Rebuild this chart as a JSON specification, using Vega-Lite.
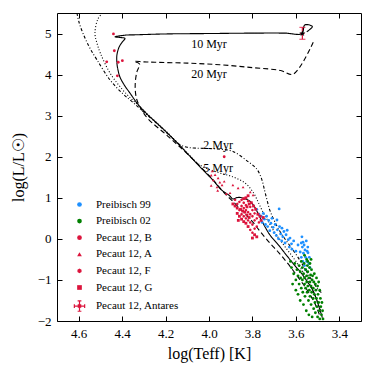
{
  "$schema": "https://vega.github.io/schema/vega-lite/v6.json",
  "autosize": {"type": "none"},
  "padding": {"left": 57, "top": 13, "right": 13, "bottom": 53},
  "width": 304,
  "height": 308,
  "config": {
    "font": "Liberation Serif",
    "text": {"font": "Liberation Serif"},
    "legend": {"labelFont": "Liberation Serif"},
    "view": {"stroke": "#000", "strokeWidth": 1},
    "axis": {"grid": false, "domain": false, "tickColor": "#000", "tickSize": -5, "tickWidth": 1, "labelColor": "#000", "labelFont": "Liberation Serif", "labelFontSize": 13, "titleFont": "Liberation Serif", "titleFontSize": 16, "titleFontWeight": "normal", "titleColor": "#000"}
  },
  "datasets": {
    "iso": [
      {"s":"10","i":1,"T":3.55,"L":5.04},{"s":"10","i":2,"T":3.524,"L":5.17},{"s":"10","i":3,"T":3.559,"L":5.21},{"s":"10","i":4,"T":3.572,"L":5.0},{"s":"10","i":5,"T":3.65,"L":5.01},{"s":"10","i":6,"T":3.8,"L":5.01},{"s":"10","i":7,"T":4.0,"L":5.0},{"s":"10","i":8,"T":4.2,"L":4.99},{"s":"10","i":9,"T":4.33,"L":4.97},{"s":"10","i":10,"T":4.387,"L":4.96},{"s":"10","i":11,"T":4.433,"L":4.92},{"s":"10","i":12,"T":4.41,"L":4.905},{"s":"10","i":13,"T":4.387,"L":4.88},{"s":"10","i":14,"T":4.4,"L":4.79},{"s":"10","i":15,"T":4.414,"L":4.67},{"s":"10","i":16,"T":4.424,"L":4.48},{"s":"10","i":17,"T":4.424,"L":4.28},{"s":"10","i":18,"T":4.419,"L":4.11},{"s":"10","i":19,"T":4.41,"L":3.94},{"s":"10","i":20,"T":4.387,"L":3.72},{"s":"10","i":21,"T":4.364,"L":3.55},{"s":"10","i":22,"T":4.332,"L":3.31},{"s":"10","i":23,"T":4.295,"L":3.09},{"s":"10","i":24,"T":4.21,"L":2.67},{"s":"10","i":25,"T":4.13,"L":2.25},{"s":"10","i":26,"T":4.05,"L":1.8},{"s":"10","i":27,"T":3.98,"L":1.42},{"s":"10","i":28,"T":3.94,"L":1.18},{"s":"10","i":29,"T":3.905,"L":1.05},{"s":"10","i":30,"T":3.89,"L":0.97},{"s":"10","i":31,"T":3.875,"L":1.0},{"s":"10","i":32,"T":3.86,"L":1.01},{"s":"10","i":33,"T":3.835,"L":0.98},{"s":"10","i":34,"T":3.815,"L":0.93},{"s":"10","i":35,"T":3.795,"L":0.82},{"s":"10","i":36,"T":3.78,"L":0.68},{"s":"10","i":37,"T":3.755,"L":0.42},{"s":"10","i":38,"T":3.72,"L":0.1},{"s":"10","i":39,"T":3.68,"L":-0.15},{"s":"10","i":40,"T":3.64,"L":-0.42},{"s":"10","i":41,"T":3.6,"L":-0.68},{"s":"10","i":42,"T":3.58,"L":-0.8},{"s":"10","i":43,"T":3.55,"L":-1.02},{"s":"10","i":44,"T":3.52,"L":-1.27},{"s":"10","i":45,"T":3.5,"L":-1.55},{"s":"10","i":46,"T":3.485,"L":-1.8},{"s":"10","i":47,"T":3.478,"L":-1.92},
      {"s":"20","i":1,"T":3.52,"L":4.79},{"s":"20","i":2,"T":3.613,"L":4.01},{"s":"20","i":3,"T":3.67,"L":4.1},{"s":"20","i":4,"T":3.8,"L":4.17},{"s":"20","i":5,"T":3.95,"L":4.24},{"s":"20","i":6,"T":4.1,"L":4.28},{"s":"20","i":7,"T":4.25,"L":4.3},{"s":"20","i":8,"T":4.3,"L":4.31},{"s":"20","i":9,"T":4.345,"L":4.32},{"s":"20","i":10,"T":4.32,"L":4.26},{"s":"20","i":11,"T":4.333,"L":4.05},{"s":"20","i":12,"T":4.34,"L":3.72},{"s":"20","i":13,"T":4.333,"L":3.4},{"s":"20","i":14,"T":4.31,"L":3.14},{"s":"20","i":15,"T":4.28,"L":2.92},{"s":"20","i":16,"T":4.2,"L":2.55},{"s":"20","i":17,"T":4.12,"L":2.17},{"s":"20","i":18,"T":4.04,"L":1.76},{"s":"20","i":19,"T":3.98,"L":1.43},{"s":"20","i":20,"T":3.93,"L":1.12},{"s":"20","i":21,"T":3.88,"L":0.86},{"s":"20","i":22,"T":3.84,"L":0.64},{"s":"20","i":23,"T":3.8,"L":0.42},{"s":"20","i":24,"T":3.76,"L":0.15},{"s":"20","i":25,"T":3.72,"L":-0.1},{"s":"20","i":26,"T":3.68,"L":-0.33},{"s":"20","i":27,"T":3.64,"L":-0.58},{"s":"20","i":28,"T":3.6,"L":-0.86},{"s":"20","i":29,"T":3.56,"L":-1.15},{"s":"20","i":30,"T":3.53,"L":-1.4},{"s":"20","i":31,"T":3.505,"L":-1.66},{"s":"20","i":32,"T":3.49,"L":-1.87},
      {"s":"2","i":1,"T":4.608,"L":5.5},{"s":"2","i":2,"T":4.6,"L":5.3},{"s":"2","i":3,"T":4.58,"L":5.0},{"s":"2","i":4,"T":4.55,"L":4.66},{"s":"2","i":5,"T":4.516,"L":4.36},{"s":"2","i":6,"T":4.456,"L":3.87},{"s":"2","i":7,"T":4.4,"L":3.55},{"s":"2","i":8,"T":4.35,"L":3.32},{"s":"2","i":9,"T":4.29,"L":3.04},{"s":"2","i":10,"T":4.23,"L":2.76},{"s":"2","i":11,"T":4.17,"L":2.46},{"s":"2","i":12,"T":4.135,"L":2.3},{"s":"2","i":13,"T":4.1,"L":2.23},{"s":"2","i":14,"T":4.06,"L":2.21},{"s":"2","i":15,"T":4.0,"L":2.2},{"s":"2","i":16,"T":3.94,"L":2.18},{"s":"2","i":17,"T":3.89,"L":2.13},{"s":"2","i":18,"T":3.825,"L":1.9},{"s":"2","i":19,"T":3.78,"L":1.7},{"s":"2","i":20,"T":3.757,"L":1.45},{"s":"2","i":21,"T":3.745,"L":1.2},{"s":"2","i":22,"T":3.733,"L":0.95},{"s":"2","i":23,"T":3.72,"L":0.7},{"s":"2","i":24,"T":3.7,"L":0.45},{"s":"2","i":25,"T":3.67,"L":0.15},{"s":"2","i":26,"T":3.63,"L":-0.15},{"s":"2","i":27,"T":3.59,"L":-0.45},{"s":"2","i":28,"T":3.55,"L":-0.8},{"s":"2","i":29,"T":3.515,"L":-1.1},{"s":"2","i":30,"T":3.49,"L":-1.28},{"s":"2","i":31,"T":3.475,"L":-1.33},
      {"s":"5","i":1,"T":4.49,"L":5.5},{"s":"5","i":2,"T":4.512,"L":5.35},{"s":"5","i":3,"T":4.525,"L":5.0},{"s":"5","i":4,"T":4.515,"L":4.75},{"s":"5","i":5,"T":4.5,"L":4.52},{"s":"5","i":6,"T":4.456,"L":4.04},{"s":"5","i":7,"T":4.396,"L":3.62},{"s":"5","i":8,"T":4.33,"L":3.27},{"s":"5","i":9,"T":4.26,"L":2.92},{"s":"5","i":10,"T":4.18,"L":2.53},{"s":"5","i":11,"T":4.12,"L":2.2},{"s":"5","i":12,"T":4.06,"L":1.88},{"s":"5","i":13,"T":4.03,"L":1.76},{"s":"5","i":14,"T":3.96,"L":1.62},{"s":"5","i":15,"T":3.89,"L":1.51},{"s":"5","i":16,"T":3.834,"L":1.36},{"s":"5","i":17,"T":3.797,"L":1.14},{"s":"5","i":18,"T":3.774,"L":0.9},{"s":"5","i":19,"T":3.756,"L":0.7},{"s":"5","i":20,"T":3.73,"L":0.45},{"s":"5","i":21,"T":3.7,"L":0.18},{"s":"5","i":22,"T":3.66,"L":-0.12},{"s":"5","i":23,"T":3.62,"L":-0.4},{"s":"5","i":24,"T":3.58,"L":-0.7},{"s":"5","i":25,"T":3.545,"L":-1.0},{"s":"5","i":26,"T":3.515,"L":-1.35},{"s":"5","i":27,"T":3.495,"L":-1.6},{"s":"5","i":28,"T":3.485,"L":-1.75}
    ],
    "labels": [
      {"T":4.0,"L":4.74,"t":"10 Myr"},{"T":4.0,"L":4.02,"t":"20 Myr"},{"T":3.958,"L":2.28,"t":"2 Myr"},{"T":3.958,"L":1.72,"t":"5 Myr"}
    ],
    "antares": [{"T":3.57,"L":5.0,"Llo":4.86,"Lhi":5.15,"Tlo":3.56,"Thi":3.58}],
    "stars": [
      {"g":"Preibisch 99","T":3.78,"L":0.72},{"g":"Preibisch 99","T":3.77,"L":0.6},{"g":"Preibisch 99","T":3.76,"L":0.55},{"g":"Preibisch 99","T":3.755,"L":0.4},{"g":"Preibisch 99","T":3.75,"L":0.62},{"g":"Preibisch 99","T":3.745,"L":0.48},{"g":"Preibisch 99","T":3.74,"L":0.35},{"g":"Preibisch 99","T":3.735,"L":0.55},{"g":"Preibisch 99","T":3.73,"L":0.3},{"g":"Preibisch 99","T":3.725,"L":0.45},{"g":"Preibisch 99","T":3.72,"L":0.2},{"g":"Preibisch 99","T":3.715,"L":0.38},{"g":"Preibisch 99","T":3.71,"L":0.5},{"g":"Preibisch 99","T":3.705,"L":0.28},{"g":"Preibisch 99","T":3.7,"L":0.15},{"g":"Preibisch 99","T":3.695,"L":0.35},{"g":"Preibisch 99","T":3.69,"L":0.08},{"g":"Preibisch 99","T":3.687,"L":0.46},{"g":"Preibisch 99","T":3.685,"L":0.22},{"g":"Preibisch 99","T":3.68,"L":0.0},{"g":"Preibisch 99","T":3.677,"L":0.73},{"g":"Preibisch 99","T":3.675,"L":0.3},{"g":"Preibisch 99","T":3.67,"L":0.12},{"g":"Preibisch 99","T":3.665,"L":-0.05},{"g":"Preibisch 99","T":3.664,"L":0.26},{"g":"Preibisch 99","T":3.66,"L":0.05},{"g":"Preibisch 99","T":3.655,"L":0.18},{"g":"Preibisch 99","T":3.65,"L":-0.1},{"g":"Preibisch 99","T":3.645,"L":0.1},{"g":"Preibisch 99","T":3.64,"L":0.21},{"g":"Preibisch 99","T":3.635,"L":-0.02},{"g":"Preibisch 99","T":3.63,"L":-0.2},{"g":"Preibisch 99","T":3.627,"L":0.02},{"g":"Preibisch 99","T":3.62,"L":-0.12},{"g":"Preibisch 99","T":3.618,"L":-0.25},{"g":"Preibisch 99","T":3.61,"L":-0.05},{"g":"Preibisch 99","T":3.6,"L":-0.3},{"g":"Preibisch 99","T":3.59,"L":-0.15},{"g":"Preibisch 99","T":3.58,"L":-0.32},{"g":"Preibisch 99","T":3.575,"L":-0.1},{"g":"Preibisch 99","T":3.572,"L":0.05},{"g":"Preibisch 99","T":3.57,"L":-0.2},{"g":"Preibisch 99","T":3.567,"L":-0.08},{"g":"Preibisch 99","T":3.565,"L":-0.35},{"g":"Preibisch 99","T":3.562,"L":-0.15},{"g":"Preibisch 99","T":3.558,"L":-0.27},{"g":"Preibisch 99","T":3.555,"L":-0.45},{"g":"Preibisch 99","T":3.552,"L":-0.05},{"g":"Preibisch 99","T":3.55,"L":-0.55},{"g":"Preibisch 99","T":3.548,"L":-0.3},{"g":"Preibisch 99","T":3.545,"L":-0.2},{"g":"Preibisch 99","T":3.544,"L":-0.34},{"g":"Preibisch 99","T":3.54,"L":-0.6},{"g":"Preibisch 99","T":3.538,"L":-0.45},{"g":"Preibisch 99","T":3.535,"L":-0.7},{"g":"Preibisch 99","T":3.575,"L":-0.45},{"g":"Preibisch 99","T":3.568,"L":-0.55},{"g":"Preibisch 99","T":3.56,"L":-0.65},{"g":"Preibisch 99","T":3.555,"L":-0.75},
      {"g":"Preibisch 02","T":3.625,"L":-0.55},{"g":"Preibisch 02","T":3.62,"L":-0.7},{"g":"Preibisch 02","T":3.615,"L":-1.1},{"g":"Preibisch 02","T":3.61,"L":-0.85},{"g":"Preibisch 02","T":3.605,"L":-0.6},{"g":"Preibisch 02","T":3.6,"L":-1.0},{"g":"Preibisch 02","T":3.6,"L":-1.25},{"g":"Preibisch 02","T":3.595,"L":-0.75},{"g":"Preibisch 02","T":3.59,"L":-0.9},{"g":"Preibisch 02","T":3.59,"L":-1.35},{"g":"Preibisch 02","T":3.585,"L":-0.65},{"g":"Preibisch 02","T":3.585,"L":-1.1},{"g":"Preibisch 02","T":3.58,"L":-0.8},{"g":"Preibisch 02","T":3.58,"L":-1.5},{"g":"Preibisch 02","T":3.578,"L":-0.95},{"g":"Preibisch 02","T":3.575,"L":-1.2},{"g":"Preibisch 02","T":3.575,"L":-0.55},{"g":"Preibisch 02","T":3.57,"L":-0.7},{"g":"Preibisch 02","T":3.57,"L":-1.0},{"g":"Preibisch 02","T":3.568,"L":-1.3},{"g":"Preibisch 02","T":3.565,"L":-0.85},{"g":"Preibisch 02","T":3.565,"L":-1.6},{"g":"Preibisch 02","T":3.562,"L":-0.6},{"g":"Preibisch 02","T":3.56,"L":-1.1},{"g":"Preibisch 02","T":3.56,"L":-0.95},{"g":"Preibisch 02","T":3.558,"L":-1.4},{"g":"Preibisch 02","T":3.555,"L":-0.75},{"g":"Preibisch 02","T":3.555,"L":-1.2},{"g":"Preibisch 02","T":3.552,"L":-1.75},{"g":"Preibisch 02","T":3.55,"L":-0.9},{"g":"Preibisch 02","T":3.55,"L":-1.05},{"g":"Preibisch 02","T":3.548,"L":-1.3},{"g":"Preibisch 02","T":3.547,"L":-0.65},{"g":"Preibisch 02","T":3.545,"L":-0.8},{"g":"Preibisch 02","T":3.545,"L":-1.15},{"g":"Preibisch 02","T":3.542,"L":-1.5},{"g":"Preibisch 02","T":3.54,"L":-0.95},{"g":"Preibisch 02","T":3.54,"L":-1.85},{"g":"Preibisch 02","T":3.538,"L":-1.25},{"g":"Preibisch 02","T":3.537,"L":-0.7},{"g":"Preibisch 02","T":3.535,"L":-1.05},{"g":"Preibisch 02","T":3.535,"L":-1.4},{"g":"Preibisch 02","T":3.532,"L":-0.88},{"g":"Preibisch 02","T":3.53,"L":-1.6},{"g":"Preibisch 02","T":3.53,"L":-1.15},{"g":"Preibisch 02","T":3.528,"L":-0.75},{"g":"Preibisch 02","T":3.527,"L":-1.3},{"g":"Preibisch 02","T":3.525,"L":-1.0},{"g":"Preibisch 02","T":3.525,"L":-1.9},{"g":"Preibisch 02","T":3.523,"L":-0.9},{"g":"Preibisch 02","T":3.52,"L":-1.45},{"g":"Preibisch 02","T":3.52,"L":-1.2},{"g":"Preibisch 02","T":3.518,"L":-1.7},{"g":"Preibisch 02","T":3.517,"L":-1.05},{"g":"Preibisch 02","T":3.515,"L":-0.85},{"g":"Preibisch 02","T":3.515,"L":-1.35},{"g":"Preibisch 02","T":3.512,"L":-1.55},{"g":"Preibisch 02","T":3.51,"L":-1.1},{"g":"Preibisch 02","T":3.51,"L":-1.8},{"g":"Preibisch 02","T":3.508,"L":-1.25},{"g":"Preibisch 02","T":3.505,"L":-0.95},{"g":"Preibisch 02","T":3.505,"L":-1.45},{"g":"Preibisch 02","T":3.503,"L":-1.65},{"g":"Preibisch 02","T":3.5,"L":-1.15},{"g":"Preibisch 02","T":3.5,"L":-1.9},{"g":"Preibisch 02","T":3.498,"L":-1.35},{"g":"Preibisch 02","T":3.495,"L":-1.05},{"g":"Preibisch 02","T":3.495,"L":-1.55},{"g":"Preibisch 02","T":3.492,"L":-1.75},{"g":"Preibisch 02","T":3.49,"L":-1.25},{"g":"Preibisch 02","T":3.49,"L":-1.95},{"g":"Preibisch 02","T":3.487,"L":-1.45},{"g":"Preibisch 02","T":3.485,"L":-1.65},{"g":"Preibisch 02","T":3.482,"L":-1.85},{"g":"Preibisch 02","T":3.48,"L":-1.55},{"g":"Preibisch 02","T":3.477,"L":-1.75},{"g":"Preibisch 02","T":3.475,"L":-1.95},{"g":"Preibisch 02","T":3.56,"L":-0.4},{"g":"Preibisch 02","T":3.55,"L":-0.5},{"g":"Preibisch 02","T":3.545,"L":-0.55},{"g":"Preibisch 02","T":3.535,"L":-0.6},{"g":"Preibisch 02","T":3.53,"L":-0.5},
      {"g":"Pecaut 12, B","T":4.44,"L":4.99},{"g":"Pecaut 12, B","T":4.436,"L":4.58},{"g":"Pecaut 12, B","T":4.471,"L":4.31},{"g":"Pecaut 12, B","T":4.418,"L":4.3},{"g":"Pecaut 12, B","T":4.399,"L":4.34},{"g":"Pecaut 12, B","T":4.422,"L":3.97},{"g":"Pecaut 12, B","T":3.93,"L":2.0},
      {"g":"Pecaut 12, A","T":3.99,"L":1.55},{"g":"Pecaut 12, A","T":3.972,"L":1.56},{"g":"Pecaut 12, A","T":3.98,"L":1.43},{"g":"Pecaut 12, A","T":3.958,"L":1.48},{"g":"Pecaut 12, A","T":3.94,"L":1.31},{"g":"Pecaut 12, A","T":3.963,"L":1.26},{"g":"Pecaut 12, A","T":3.99,"L":1.3},{"g":"Pecaut 12, A","T":3.95,"L":1.38},{"g":"Pecaut 12, A","T":3.93,"L":1.4},{"g":"Pecaut 12, A","T":3.96,"L":1.18},{"g":"Pecaut 12, A","T":3.92,"L":1.1},{"g":"Pecaut 12, A","T":3.903,"L":1.12},{"g":"Pecaut 12, A","T":3.89,"L":1.31},{"g":"Pecaut 12, A","T":3.866,"L":1.24},{"g":"Pecaut 12, A","T":3.843,"L":1.26},{"g":"Pecaut 12, A","T":3.81,"L":1.14},{"g":"Pecaut 12, A","T":3.797,"L":1.07},{"g":"Pecaut 12, A","T":3.985,"L":1.65},
      {"g":"Pecaut 12, F","T":3.88,"L":0.95},{"g":"Pecaut 12, F","T":3.87,"L":0.85},{"g":"Pecaut 12, F","T":3.86,"L":0.9},{"g":"Pecaut 12, F","T":3.85,"L":0.8},{"g":"Pecaut 12, F","T":3.85,"L":0.95},{"g":"Pecaut 12, F","T":3.84,"L":0.88},{"g":"Pecaut 12, F","T":3.84,"L":0.75},{"g":"Pecaut 12, F","T":3.83,"L":0.7},{"g":"Pecaut 12, F","T":3.83,"L":0.82},{"g":"Pecaut 12, F","T":3.82,"L":0.92},{"g":"Pecaut 12, F","T":3.82,"L":0.65},{"g":"Pecaut 12, F","T":3.81,"L":0.78},{"g":"Pecaut 12, F","T":3.81,"L":0.6},{"g":"Pecaut 12, F","T":3.8,"L":0.7},{"g":"Pecaut 12, F","T":3.8,"L":0.55},{"g":"Pecaut 12, F","T":3.79,"L":0.62},{"g":"Pecaut 12, F","T":3.79,"L":0.45},{"g":"Pecaut 12, F","T":3.78,"L":0.5},{"g":"Pecaut 12, F","T":3.77,"L":0.4},{"g":"Pecaut 12, F","T":3.78,"L":0.3},{"g":"Pecaut 12, F","T":3.86,"L":0.7},{"g":"Pecaut 12, F","T":3.85,"L":0.6},{"g":"Pecaut 12, F","T":3.84,"L":0.55},{"g":"Pecaut 12, F","T":3.83,"L":0.5},{"g":"Pecaut 12, F","T":3.82,"L":0.45},{"g":"Pecaut 12, F","T":3.81,"L":0.4},{"g":"Pecaut 12, F","T":3.8,"L":0.35},{"g":"Pecaut 12, F","T":3.79,"L":0.25},{"g":"Pecaut 12, F","T":3.8,"L":0.15},{"g":"Pecaut 12, F","T":3.81,"L":0.22},
      {"g":"Pecaut 12, G","T":3.82,"L":0.3},{"g":"Pecaut 12, G","T":3.83,"L":0.38},{"g":"Pecaut 12, G","T":3.84,"L":0.42},{"g":"Pecaut 12, G","T":3.85,"L":0.48},{"g":"Pecaut 12, G","T":3.86,"L":0.55},{"g":"Pecaut 12, G","T":3.87,"L":0.62},{"g":"Pecaut 12, G","T":3.87,"L":0.75},{"g":"Pecaut 12, G","T":3.88,"L":0.8},{"g":"Pecaut 12, G","T":3.89,"L":0.85},{"g":"Pecaut 12, G","T":3.835,"L":0.65},{"g":"Pecaut 12, G","T":3.825,"L":0.58},{"g":"Pecaut 12, G","T":3.815,"L":0.52},{"g":"Pecaut 12, G","T":3.845,"L":0.68},{"g":"Pecaut 12, G","T":3.855,"L":0.72},{"g":"Pecaut 12, G","T":3.825,"L":0.78},{"g":"Pecaut 12, G","T":3.815,"L":0.85},{"g":"Pecaut 12, G","T":3.805,"L":0.88},{"g":"Pecaut 12, G","T":3.795,"L":0.8},{"g":"Pecaut 12, G","T":3.785,"L":0.72},{"g":"Pecaut 12, G","T":3.775,"L":0.6},{"g":"Pecaut 12, G","T":3.765,"L":0.55},{"g":"Pecaut 12, G","T":3.79,"L":0.1},{"g":"Pecaut 12, G","T":3.78,"L":0.05},{"g":"Pecaut 12, G","T":3.8,"L":0.02},{"g":"Pecaut 12, G","T":3.76,"L":0.45},{"g":"Pecaut 12, G","T":3.75,"L":0.52},{"g":"Pecaut 12, G","T":3.83,"L":1.0},{"g":"Pecaut 12, G","T":3.82,"L":1.05},{"g":"Pecaut 12, G","T":3.84,"L":0.98},{"g":"Pecaut 12, G","T":3.865,"L":0.45}
    ]
  },
  "resolve": {"axis": {"x": "independent", "y": "independent"}},
  "layer": [
    {
      "data": {"name": "iso"},
      "mark": {"type": "line", "color": "#000", "strokeWidth": 1.1, "clip": true, "interpolate": "catmull-rom"},
      "encoding": {
        "x": {"field": "T", "type": "quantitative", "scale": {"domain": [3.3, 4.7], "reverse": true, "nice": false, "zero": false}, "axis": {"orient": "top", "labels": false, "title": null, "values": [3.4, 3.6, 3.8, 4.0, 4.2, 4.4, 4.6]}},
        "y": {"field": "L", "type": "quantitative", "scale": {"domain": [-2, 5.5], "nice": false, "zero": false}, "axis": {"orient": "right", "labels": false, "title": null, "values": [-2, -1, 0, 1, 2, 3, 4, 5]}},
        "detail": {"field": "s"},
        "order": {"field": "i"},
        "strokeDash": {"field": "s", "type": "nominal", "scale": {"domain": ["10", "20", "2", "5"], "range": [[1, 0], [5, 3], [3, 2, 1, 2], [1, 2]]}, "legend": null}
      }
    },
    {
      "data": {"name": "labels"},
      "mark": {"type": "text", "font": "Liberation Serif", "fontSize": 12, "color": "#000"},
      "encoding": {
        "x": {"field": "T", "type": "quantitative", "scale": {"domain": [3.3, 4.7], "reverse": true, "nice": false, "zero": false}, "axis": null},
        "y": {"field": "L", "type": "quantitative", "scale": {"domain": [-2, 5.5], "nice": false, "zero": false}, "axis": null},
        "text": {"field": "t"}
      }
    },
    {
      "data": {"name": "stars"},
      "mark": {"type": "point", "filled": true, "opacity": 1, "size": 8, "strokeWidth": 0},
      "encoding": {
        "x": {"field": "T", "type": "quantitative", "scale": {"domain": [3.3, 4.7], "reverse": true, "nice": false, "zero": false}, "axis": {"values": [3.4, 3.6, 3.8, 4.0, 4.2, 4.4, 4.6], "format": ".1f", "title": "log(Teff) [K]", "labelPadding": 11, "titlePadding": 5}},
        "y": {"field": "L", "type": "quantitative", "scale": {"domain": [-2, 5.5], "nice": false, "zero": false}, "axis": {"values": [-2, -1, 0, 1, 2, 3, 4, 5], "title": "log(L/L\u2609)", "labelPadding": 11, "titlePadding": 11}},
        "color": {"field": "g", "type": "nominal", "scale": {"domain": ["Preibisch 99", "Preibisch 02", "Pecaut 12, B", "Pecaut 12, A", "Pecaut 12, F", "Pecaut 12, G", "Pecaut 12, Antares"], "range": ["#1E90FF", "#008000", "#DC143C", "#DC143C", "#DC143C", "#DC143C", "#DC143C"]},
          "legend": {"title": null, "orient": "none", "legendX": 17, "legendY": 186, "padding": 0, "labelFont": "Liberation Serif", "labelFontSize": 11, "labelColor": "#000", "symbolSize": 22, "rowPadding": 4.6, "labelOffset": 11, "symbolOpacity": 1,
            "encode": {"symbols": {"update": {"stroke": {"scale": "color", "field": "value"}, "strokeWidth": {"signal": "datum.value === 'Pecaut 12, Antares' ? 1.2 : 0"}}}}}},
        "shape": {"field": "g", "type": "nominal", "scale": {"domain": ["Preibisch 99", "Preibisch 02", "Pecaut 12, B", "Pecaut 12, A", "Pecaut 12, F", "Pecaut 12, G", "Pecaut 12, Antares"], "range": ["circle", "circle", "circle", "triangle-up", "M0,-1L0.87,-0.5L0.87,0.5L0,1L-0.87,0.5L-0.87,-0.5Z", "square", "M-2.2,0H2.2M0,-2.2V2.2M-2.2,-0.8V0.8M2.2,-0.8V0.8M-0.8,-2.2H0.8M-0.8,2.2H0.8M-0.5,-0.5H0.5V0.5H-0.5Z"]}}
      }
    },
    {
      "data": {"name": "antares"},
      "mark": {"type": "rule", "color": "#DC143C", "strokeWidth": 1.2},
      "encoding": {
        "x": {"field": "T", "type": "quantitative", "scale": {"domain": [3.3, 4.7], "reverse": true, "nice": false, "zero": false}, "axis": null},
        "y": {"field": "Llo", "type": "quantitative", "scale": {"domain": [-2, 5.5], "nice": false, "zero": false}, "axis": null},
        "y2": {"field": "Lhi"}
      }
    },
    {
      "data": {"name": "antares"},
      "mark": {"type": "rule", "color": "#DC143C", "strokeWidth": 1.2},
      "encoding": {
        "x": {"field": "Tlo", "type": "quantitative", "scale": {"domain": [3.3, 4.7], "reverse": true, "nice": false, "zero": false}, "axis": null},
        "x2": {"field": "Thi"},
        "y": {"field": "L", "type": "quantitative", "scale": {"domain": [-2, 5.5], "nice": false, "zero": false}, "axis": null}
      }
    },
    {
      "data": {"name": "antares"},
      "mark": {"type": "tick", "orient": "horizontal", "color": "#DC143C", "size": 6, "thickness": 1.2},
      "encoding": {
        "x": {"field": "T", "type": "quantitative", "scale": {"domain": [3.3, 4.7], "reverse": true, "nice": false, "zero": false}, "axis": null},
        "y": {"field": "Llo", "type": "quantitative", "scale": {"domain": [-2, 5.5], "nice": false, "zero": false}, "axis": null}
      }
    },
    {
      "data": {"name": "antares"},
      "mark": {"type": "tick", "orient": "horizontal", "color": "#DC143C", "size": 6, "thickness": 1.2},
      "encoding": {
        "x": {"field": "T", "type": "quantitative", "scale": {"domain": [3.3, 4.7], "reverse": true, "nice": false, "zero": false}, "axis": null},
        "y": {"field": "Lhi", "type": "quantitative", "scale": {"domain": [-2, 5.5], "nice": false, "zero": false}, "axis": null}
      }
    },
    {
      "data": {"name": "antares"},
      "mark": {"type": "point", "shape": "M0,-1L0.24,-0.31L0.95,-0.31L0.38,0.12L0.59,0.81L0,0.4L-0.59,0.81L-0.38,0.12L-0.95,-0.31L-0.24,-0.31Z", "filled": true, "color": "#000", "size": 40, "opacity": 1},
      "encoding": {
        "x": {"field": "T", "type": "quantitative", "scale": {"domain": [3.3, 4.7], "reverse": true, "nice": false, "zero": false}, "axis": null},
        "y": {"field": "L", "type": "quantitative", "scale": {"domain": [-2, 5.5], "nice": false, "zero": false}, "axis": null}
      }
    }
  ]
}
